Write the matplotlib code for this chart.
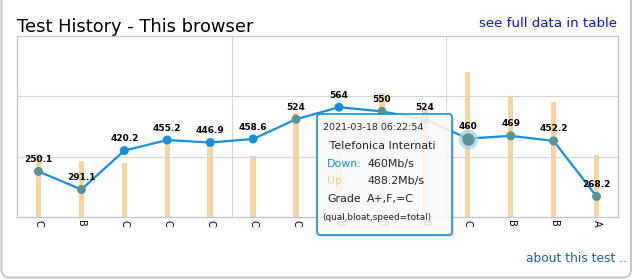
import matplotlib
matplotlib.use("Agg")
import matplotlib.pyplot as plt
from matplotlib.patches import FancyBboxPatch
from matplotlib.transforms import Affine2D

W, H, DPI = 637, 280, 100

# speed grades shown under each test
grades = ["C", "B", "C", "C", "C", "C", "C", "B", "B", "B", "C", "B", "B", "A"]
# download speed (Mb/s), line series
down = [351.0, 291.1, 420.2, 455.2, 446.9, 458.6, 524, 564, 550, 524, 460, 469, 452.2, 268.2]
down_labels = ["250.1", "291.1", "420.2", "455.2", "446.9", "458.6", "524",
               "564", "550", "524", "460", "469", "452.2", "268.2"]
# upload speed (Mb/s), bar series
up = [212, 189, 182, 249, 242, 205, 350, 330, 417, 360, 488.2, 404, 388, 209]

hover = 10
hover_when = "2021-03-18 06:22:54"
hover_isp = " Telefonica Internati"
hover_grade = "A+,F,=C"

DOWN_LIM = (200, 800)
UP_LIM = (0, 610)

BLUE = "#1690dc"
TEAL = "#5a9392"
ORANGE = "#f6d5a2"

fig = plt.figure(figsize=(W / DPI, H / DPI), dpi=DPI)
# pixel coordinates, origin at top left
px = Affine2D().scale(1 / DPI, -1 / DPI).translate(0, H / DPI) + fig.dpi_scale_trans

# outer rounded frame (top edge is off the picture)
fig.patches.append(FancyBboxPatch((1.5, -200), 629.5, 477.5,
                                  boxstyle="round,pad=0,rounding_size=8",
                                  transform=px, fc="none", ec="#c6c6c6", lw=1.4))

ax = fig.add_axes([17 / W, 1 - 217 / H, (618 - 17) / W, (217 - 36) / H])
ax2 = ax.twinx()
ax2.set_zorder(ax.get_zorder() - 1)
ax.patch.set_visible(False)

x = list(range(len(grades)))

ax2.bar(x, up, width=0.125, color=ORANGE, zorder=1)
ax2.set_ylim(*UP_LIM)
ax2.axis("off")


def frac(v, lim):
    return (v - lim[0]) / (lim[1] - lim[0])


# markers look teal where the upload bar sits behind them
marker_colors = [TEAL if frac(u, UP_LIM) >= frac(d, DOWN_LIM) else BLUE
                 for u, d in zip(up, down)]

ax.plot(x, down, color=BLUE, lw=1.6, zorder=3)
ax.scatter(x, down, s=42, c=marker_colors, zorder=4, linewidths=0)
ax.scatter([hover], [down[hover]], s=200, color="#9fd0f0", alpha=0.7, zorder=3.5, linewidths=0)
ax.scatter([hover], [down[hover]], s=80, color=TEAL, zorder=4.5, linewidths=0)

for xi, d, lab in zip(x, down, down_labels):
    ax.annotate(lab, (xi, d), xytext=(0, 6.8), textcoords="offset points",
                ha="center", va="baseline", fontsize=6.5, fontweight="bold",
                color="black", zorder=5)

ax.set_xlim(-0.5, len(grades) - 0.5)
ax.set_ylim(*DOWN_LIM)
ax.set_yticks([200, 400, 600, 800])
ax.set_yticklabels([])
ax.set_xticks(x)
ax.set_xticklabels(grades, rotation=-90, fontsize=7)
ax.set_xticks([4.5, 9.5], minor=True)
ax.tick_params(length=0, pad=2.5, which="both")
ax.grid(axis="y", color="#d6d6d6", lw=0.8)
ax.grid(axis="x", which="minor", color="#d6d6d6", lw=0.8)
for side, sp in ax.spines.items():
    sp.set_color("#c4c4c4")
    sp.set_linewidth(0.9)
ax.spines["bottom"].set_color("#b9c6d4")

fig.text(17, 32, "Test History - This browser", transform=px, fontsize=12.9,
         color="black", va="baseline", ha="left")
fig.text(617, 27, "see full data in table", transform=px, fontsize=9.6,
         color="#1010e6", va="baseline", ha="right")
fig.text(627, 262, "about this test ..", transform=px, fontsize=8.8,
         color="#1a5cb0", va="baseline", ha="right")

# tooltip
shadow = FancyBboxPatch((319, 116), 135, 121, boxstyle="round,pad=0,rounding_size=3",
                        transform=px, fc="#000000", ec="none", alpha=0.12, zorder=10)
box = FancyBboxPatch((317, 114), 135, 121, boxstyle="round,pad=0,rounding_size=3",
                     transform=px, fc="white", ec="none", alpha=0.85, zorder=11)
border = FancyBboxPatch((317, 114), 135, 121, boxstyle="round,pad=0,rounding_size=3",
                        transform=px, fc="none", ec=BLUE, lw=1.2, zorder=12)
fig.patches.extend([shadow, box, border])

tip = dict(transform=px, va="center", ha="left", zorder=13, color="#222222")
fig.text(323, 128, hover_when, fontsize=6.8, **tip)
fig.text(326, 146, hover_isp, fontsize=7.9, **tip)
fig.text(327, 164, "Down:", fontsize=7.9, **{**tip, "color": BLUE})
fig.text(368, 164, f"{down[hover]:g}Mb/s", fontsize=7.9, **tip)
fig.text(327, 181, "Up:", fontsize=7.9, **{**tip, "color": "#f3cf9c"})
fig.text(368, 181, f"{up[hover]:g}Mb/s", fontsize=7.9, **tip)
fig.text(327, 199, "Grade", fontsize=7.9, **tip)
fig.text(367, 199, hover_grade, fontsize=7.9, **tip)
fig.text(322, 218, "(qual,bloat,speed=total)", fontsize=6.4, **tip)

fig.savefig("out.png", dpi=DPI)
